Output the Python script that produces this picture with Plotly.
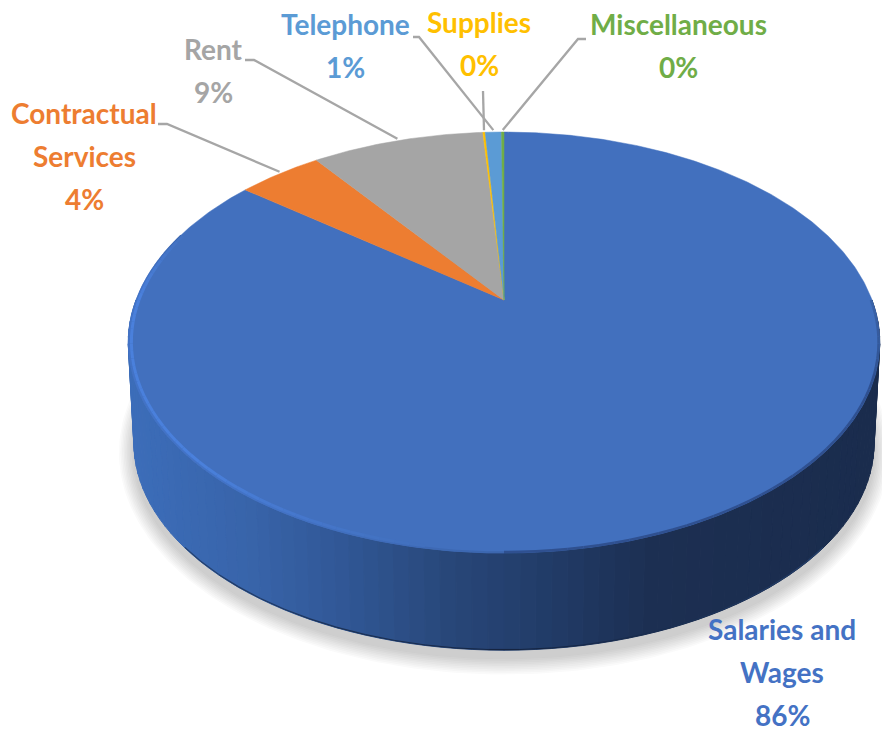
import numpy as np
import plotly.graph_objects as go

# ---- data (clockwise from 12 o'clock) ----
categories = ["Salaries and Wages", "Contractual Services", "Rent", "Supplies", "Telephone", "Miscellaneous"]
values = [85.5, 4.4, 9.0, 0.12, 0.85, 0.13]
colors = ["#4270BE", "#ED7D31", "#A5A5A5", "#FFC000", "#5B9BD5", "#70AD47"]
label_colors = ["#4472C4", "#ED7D31", "#A5A5A5", "#FFC000", "#5B9BD5", "#70AD47"]
label_lines = [["Salaries and", "Wages"], ["Contractual", "Services"], ["Rent"], ["Supplies"], ["Telephone"], ["Miscellaneous"]]

# ---- layout of the projected disc, in page pixels ----
W, H = 882, 740
CX, CY = 504.0, 300.0
PERSP, KY, KX = 0.202, 201.9, 368.0
DEPTH, BOTTOM_SCALE = 101.0, 0.985
LABEL_POS = {0: (782, 629), 1: (84, 113), 2: (213, 49), 3: (479, 22), 4: (345, 24), 5: (678, 24)}
LINE_GAP = 43
ELBOWS = {1: [(158, 124), (167, 124)], 2: [(245, 60), (254, 60)], 3: [(483, 91)], 4: [(413, 37), (419, 37)], 5: [(586, 39), (578, 39)]}


def project(t_deg, r=1.0, scale=1.0, dy=0.0):
    t = np.radians(t_deg)
    u, v = r * np.sin(t), -r * np.cos(t)
    d = 1 - PERSP * v
    return CX + scale * KX * u / d, CY + dy + scale * KY * v / d


def hex_rgb(h):
    return np.array([int(h[i:i + 2], 16) for i in (1, 3, 5)], float)


def mix(a, b, f):
    c = hex_rgb(a) * (1 - f) + hex_rgb(b) * f
    return "rgb(%d,%d,%d)" % tuple(c.round())


fig = go.Figure()


def poly(x, y, fill, line=None, lw=0):
    fig.add_trace(go.Scatter(x=x, y=y, mode="lines", fill="toself", fillcolor=fill,
                             line=dict(color=line or fill, width=lw), hoverinfo="skip", showlegend=False))


def stroke(x, y, color, lw):
    fig.add_trace(go.Scatter(x=x, y=y, mode="lines", line=dict(color=color, width=lw, simplify=False),
                             hoverinfo="skip", showlegend=False))


# soft shadow under the disc
full = np.linspace(0, 360, 361)
for grow in np.linspace(15, 1, 10):
    sx, sy = project(full, scale=BOTTOM_SCALE, dy=DEPTH + 8)
    mx, my = sx.mean(), sy.mean()
    sx = mx + (sx - mx) * (1 + grow / 372)
    sy = my + (sy - my) * (1 + grow / 210)
    poly(sx, sy, "rgba(60,60,60,0.024)")

# side wall, shaded by screen position
stop_x = [133, 250, 350, 450, 550, 650, 876]
stop_rgb = np.array([hex_rgb(c) for c in ["#3C6DB9", "#3864AA", "#305694", "#284779", "#213B67", "#1C2F52", "#1A2C4D"]])
edges = np.arange(90, 271, 2.0)
order = sorted(range(len(edges) - 1), key=lambda i: -abs(edges[i] - 180))
for i in order:
    t = np.array([edges[i], edges[i + 1]])
    tx, ty = project(t)
    bx, by = project(t, scale=BOTTOM_SCALE, dy=DEPTH)
    c = [np.interp((tx.mean() + bx.mean()) / 2, stop_x, stop_rgb[:, k]) for k in range(3)]
    col = "rgb(%d,%d,%d)" % tuple(np.round(c))
    poly(np.r_[tx, bx[::-1], tx[0]], np.r_[ty, by[::-1], ty[0]], col, lw=1)

# dark lower edge of the wall
for a in np.arange(130, 230, 4.0):
    bx, by = project(np.array([a, a + 4]), scale=BOTTOM_SCALE, dy=DEPTH)
    f = max(0.0, 1 - abs(a + 2 - 178) / 50)
    stroke(bx, by - 0.5, mix("#26426F", "#14233F", f), 1.2)

# top face: one wedge per value
pct = np.array(values) / sum(values)
starts = np.r_[0, np.cumsum(pct)[:-1]] * 360
ends = np.cumsum(pct) * 360
for s, e, c in zip(starts, ends, colors):
    a = np.linspace(s, e, max(3, int((e - s) * 2)))
    x, y = project(a)
    poly(np.r_[CX, x, CX], np.r_[CY, y, CY], c, lw=0.5)

# soft rim of the top face
for a in np.arange(90, 180, 2.0):
    x, y = project(np.array([a, a + 2]), r=0.997)
    f = np.clip((a - 90) / 20, 0, 1)
    stroke(x, y, mix("#3A63A8", "#2F5090", f), 2.5)
for a in np.arange(180, 290, 2.0):
    x, y = project(np.array([a, a + 2]), r=0.998)
    f = np.clip((a - 180) / 30, 0, 1) * np.clip((290 - a) / 16, 0, 1)
    stroke(x, y, mix("#3C66AE", "#4373C6", f), 2)
for a in np.arange(190, 290, 2.0):
    x, y = project(np.array([a, a + 2]), r=0.992)
    f = np.clip((a - 190) / 35, 0, 1) * np.clip((290 - a) / 20, 0, 1)
    stroke(x, y, mix("#4270BE", "#4A80DC", f), 3)

# leader lines and labels
for i, elbow in ELBOWS.items():
    mid = (starts[i] + ends[i]) / 2
    ex, ey = project(mid, r=1.0)
    stroke([p[0] for p in elbow] + [float(ex)], [p[1] for p in elbow] + [float(ey) - 2], "#A6A6A6", 2.3)

for i, (cat_lines, col) in enumerate(zip(label_lines, label_colors)):
    x0, y0 = LABEL_POS[i]
    lines = cat_lines + [f"{values[i]:.0f}%"]
    for j, txt in enumerate(lines):
        fig.add_annotation(x=x0, y=y0 + j * LINE_GAP, text=f"<b>{txt}</b>", showarrow=False,
                           xanchor="center", yanchor="middle",
                           font=dict(family="Lato", size=28, color=col))

fig.update_layout(width=W, height=H, margin=dict(l=0, r=0, t=0, b=0), autosize=False,
                  paper_bgcolor="white", plot_bgcolor="white", showlegend=False,
                  xaxis=dict(range=[0, W], visible=False, fixedrange=True),
                  yaxis=dict(range=[H, 0], visible=False, fixedrange=True))
fig.write_html("out.html", config={"displayModeBar": False},
               post_script="document.body.style.margin='0';document.documentElement.style.overflow='hidden';")
